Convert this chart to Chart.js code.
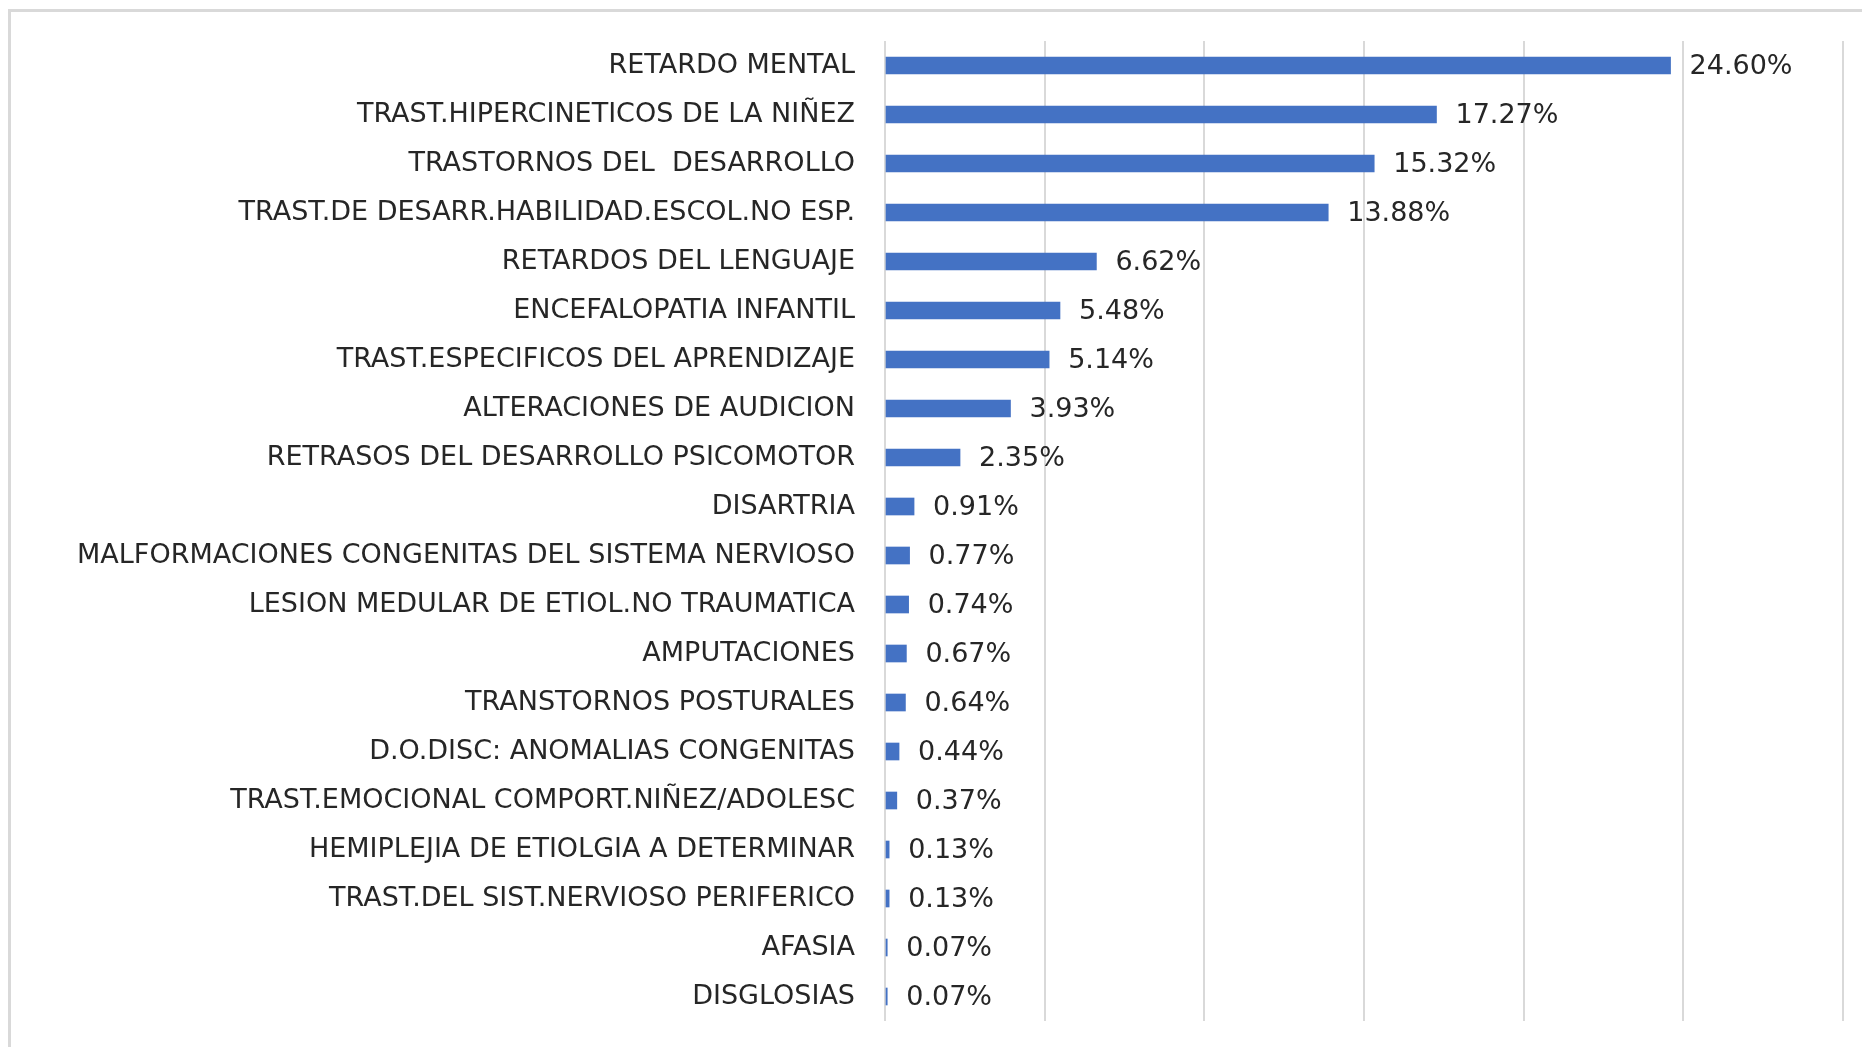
<!DOCTYPE html>
<html>
<head>
<meta charset="utf-8">
<script src="https://cdn.jsdelivr.net/npm/chart.js@4"></script>
<style>
    html, body { margin: 0; padding: 0; background: #fff; }
    #frame {
        position: absolute; left: 8px; top: 9px; width: 1900px; height: 1100px;
        border-top: 3px solid #d9d9d9; border-left: 3px solid #d9d9d9;
    }
    #wrap { position: absolute; left: 0; top: 0; width: 1862px; height: 1047px; }
</style>
</head>
<body>
<div id="frame"></div>
<div id="wrap"><canvas id="diagChart"></canvas></div>
<script>
const diagnosticos = [
    "RETARDO MENTAL",
    "TRAST.HIPERCINETICOS DE LA NIÑEZ",
    "TRASTORNOS DEL  DESARROLLO",
    "TRAST.DE DESARR.HABILIDAD.ESCOL.NO ESP.",
    "RETARDOS DEL LENGUAJE",
    "ENCEFALOPATIA INFANTIL",
    "TRAST.ESPECIFICOS DEL APRENDIZAJE",
    "ALTERACIONES DE AUDICION",
    "RETRASOS DEL DESARROLLO PSICOMOTOR",
    "DISARTRIA",
    "MALFORMACIONES CONGENITAS DEL SISTEMA NERVIOSO",
    "LESION MEDULAR DE ETIOL.NO TRAUMATICA",
    "AMPUTACIONES",
    "TRANSTORNOS POSTURALES",
    "D.O.DISC: ANOMALIAS CONGENITAS",
    "TRAST.EMOCIONAL COMPORT.NIÑEZ/ADOLESC",
    "HEMIPLEJIA DE ETIOLGIA A DETERMINAR",
    "TRAST.DEL SIST.NERVIOSO PERIFERICO",
    "AFASIA",
    "DISGLOSIAS"
];

const porcentajes = [24.60, 17.27, 15.32, 13.88, 6.62, 5.48, 5.14, 3.93, 2.35, 0.91,
    0.77, 0.74, 0.67, 0.64, 0.44, 0.37, 0.13, 0.13, 0.07, 0.07];

const ejeMin = 0;
const ejeMax = 30;
const ejePaso = 5;

const textColor = "#262626";
const fontFamily = "'DejaVu Sans', sans-serif";
const fontSize = 27;

// etiquetas de valor al final de cada barra
const valueLabels = {
    id: "valueLabels",
    afterDatasetsDraw(chart) {
        const ctx = chart.ctx;
        const meta = chart.getDatasetMeta(0);
        ctx.save();
        ctx.font = fontSize + "px " + fontFamily;
        ctx.fillStyle = textColor;
        ctx.textAlign = "left";
        ctx.textBaseline = "middle";
        meta.data.forEach((bar, i) => {
            ctx.fillText(porcentajes[i].toFixed(2) + "%", bar.x + 19, bar.y + 1);
        });
        ctx.restore();
    }
};

const chartCtx = document.getElementById("diagChart").getContext("2d");

new Chart(chartCtx, {
    type: "bar",
    data: {
        labels: diagnosticos,
        datasets: [{
            data: porcentajes,
            backgroundColor: "#4472C4",
            borderWidth: 0,
            barThickness: 17
        }]
    },
    options: {
        indexAxis: "y",
        responsive: true,
        maintainAspectRatio: false,
        animation: false,
        layout: {
            padding: { left: 0, right: 19, top: 41, bottom: 26 }
        },
        plugins: {
            legend: { display: false },
            tooltip: { enabled: false }
        },
        scales: {
            x: {
                min: ejeMin,
                max: ejeMax,
                ticks: { display: false, stepSize: ejePaso },
                grid: { color: "#d9d9d9", lineWidth: 2, drawTicks: false },
                border: { display: false },
                afterFit: scale => {
                    scale.height = 0;
                    scale.paddingLeft = 0;
                    scale.paddingRight = 0;
                }
            },
            y: {
                grid: { display: false, drawTicks: false },
                border: { display: false },
                ticks: {
                    autoSkip: false,
                    padding: 30,
                    color: textColor,
                    font: { family: fontFamily, size: fontSize }
                },
                afterFit: scale => {
                    scale.width = 885;
                    scale.paddingTop = 0;
                    scale.paddingBottom = 0;
                }
            }
        }
    },
    plugins: [valueLabels]
});
</script>
</body>
</html>
